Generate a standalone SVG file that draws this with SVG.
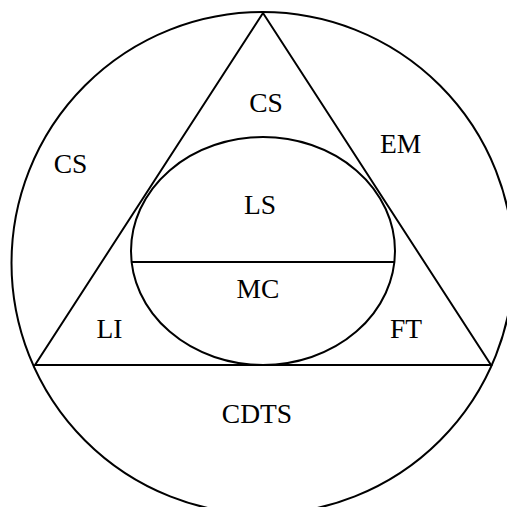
<svg xmlns="http://www.w3.org/2000/svg" width="507" height="507" viewBox="0 0 507 507">
<style>
.s{fill:none;stroke:#000;stroke-width:2}
.t{font-size:27.5px;fill:#000;text-anchor:middle}
</style>
<rect width="507" height="507" fill="#fff"/>
<g id="outer"><circle class="s" cx="262.5" cy="263" r="251"/></g>
<g id="triangle"><polygon class="s" points="263,13 35,365 491,365"/></g>
<g id="ellipse"><ellipse class="s" cx="263" cy="251" rx="132" ry="114"/></g>
<g id="connectors"><line class="s" x1="131.6" y1="262" x2="394.4" y2="262"/></g>
<g id="labels" font-family="'Liberation Serif','Times New Roman',serif">
<text class="t" x="266" y="112">CS</text>
<text class="t" x="70.5" y="173">CS</text>
<text class="t" x="400.5" y="153">EM</text>
<text class="t" x="260" y="214">LS</text>
<text class="t" x="258" y="298">MC</text>
<text class="t" x="109.5" y="338">LI</text>
<text class="t" x="406" y="338">FT</text>
<text class="t" x="257" y="423">CDTS</text>
</g>
</svg>
